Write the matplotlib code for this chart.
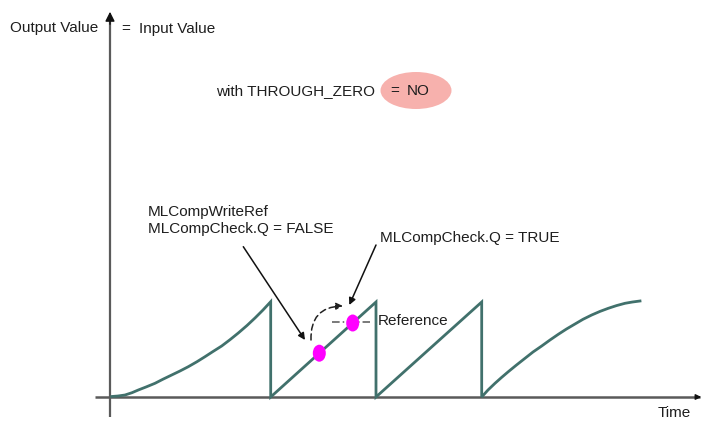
import matplotlib
matplotlib.use("Agg")
import matplotlib.pyplot as plt
from matplotlib.patches import Ellipse

# ---- data (time units / output-value units) ----
ramp1_t = [1.7, 8, 15, 22, 28.3, 36, 45, 53, 61.7, 70, 78.3, 87, 95, 103, 111.7,
           120, 128.3, 137, 145, 153, 160.7]
ramp1_v = [0.5, 1.0, 2.0, 4.3, 7.0, 10.0, 13.7, 17.8, 22.0, 26.0, 30.3, 35.3, 40.3,
           45.5, 51.0, 57.3, 64.0, 71.5, 79.0, 87.0, 95.3]
saw_t = [160.7, 266, 266, 371.7, 371.7]
saw_v = [0, 95, 0, 95, 0]
ramp4_t = [378, 385, 391.5, 398.3, 406.5, 415, 423, 431.7, 440, 448.3, 456.5, 465,
           473, 481.7, 490, 498.3, 506.5, 515, 522.5, 530]
ramp4_v = [7.0, 13.7, 19.5, 25.3, 32.0, 38.7, 45.0, 51.0, 57.0, 62.7, 68.0, 73.0,
           77.7, 82.0, 85.6, 88.7, 91.4, 93.7, 95.0, 96.0]

curve_t = ramp1_t + saw_t + ramp4_t
curve_v = ramp1_v + saw_v + ramp4_v

dot_t = [209.3, 242.7]
dot_v = [43.8, 74.0]

ref_t = [221.7, 260]
ref_v = [75.3, 75.3]

TEXT = "#1e1e1e"
FONT = "Liberation Sans"

fig = plt.figure(figsize=(7.04, 4.23), dpi=100)
ax = fig.add_axes([0, 0, 1, 1])
ax.set_xlim(-110, 594)
ax.set_ylim(-26, 397)
ax.axis("off")

# axes with arrows
ax.plot([-15, 590], [0, 0], color="#5a5a5a", lw=1.8, solid_capstyle="butt", zorder=1)
ax.annotate("", xy=(594, 0), xytext=(585, 0),
            arrowprops=dict(arrowstyle="-|>", color="#111111", lw=1, mutation_scale=8))
ax.plot([0, 0], [-20, 378], color="#5a5a5a", lw=1.6, solid_capstyle="butt", zorder=1)
ax.annotate("", xy=(0, 388), xytext=(0, 370),
            arrowprops=dict(arrowstyle="-|>", color="#111111", lw=1, mutation_scale=14))

# signal
ax.plot(curve_t, curve_v, color="#41716c", lw=2.0, solid_joinstyle="miter", zorder=3)

# reference dash-dot
ax.plot(ref_t, ref_v, color="#555555", lw=1.1, ls=(0, (5, 2, 1, 2)), zorder=2)

# dots
for t, v in zip(dot_t, dot_v):
    ax.add_patch(Ellipse((t, v), 13, 17, facecolor="#ff00ff", edgecolor="none", zorder=4))

# ellipse highlight
ax.add_patch(Ellipse((306, 306.5), 71, 37, facecolor="#f7b1ad", edgecolor="none", zorder=0))

# arrows
ax.annotate("", xy=(195, 57), xytext=(133.3, 150.3),
            arrowprops=dict(arrowstyle="-|>", color="#111111", lw=1.1, mutation_scale=10,
                            shrinkA=0, shrinkB=0))
ax.annotate("", xy=(239.3, 92), xytext=(266, 152),
            arrowprops=dict(arrowstyle="-|>", color="#111111", lw=1.1, mutation_scale=10,
                            shrinkA=0, shrinkB=0))
ax.annotate("", xy=(233, 91), xytext=(201, 57),
            arrowprops=dict(arrowstyle="-|>", color="#222222", lw=1.1, mutation_scale=10,
                            linestyle=(0, (4, 2.5)), connectionstyle="arc3,rad=-0.5",
                            shrinkA=0, shrinkB=0))

fs = 11
kw = dict(fontsize=fs, color=TEXT, family=FONT, va="center", ha="left")
ax.text(-100, 369, "Output Value", **kw)
ax.text(11, 368, "=", **kw)
ax.text(29, 368, "Input Value", **kw)
ax.text(106, 306, "with THROUGH_ZERO", **kw)
ax.text(280, 306, "=", **kw)
ax.text(296.7, 306, "NO", **kw)
ax.text(38, 185, "MLCompWriteRef", **kw)
ax.text(38, 168, "MLCompCheck.Q = FALSE", **kw)
ax.text(270, 159, "MLCompCheck.Q = TRUE", **kw)
ax.text(268, 76, "Reference", **kw)
ax.text(548, -16, "Time", **kw)

fig.savefig("out.png", dpi=100)
